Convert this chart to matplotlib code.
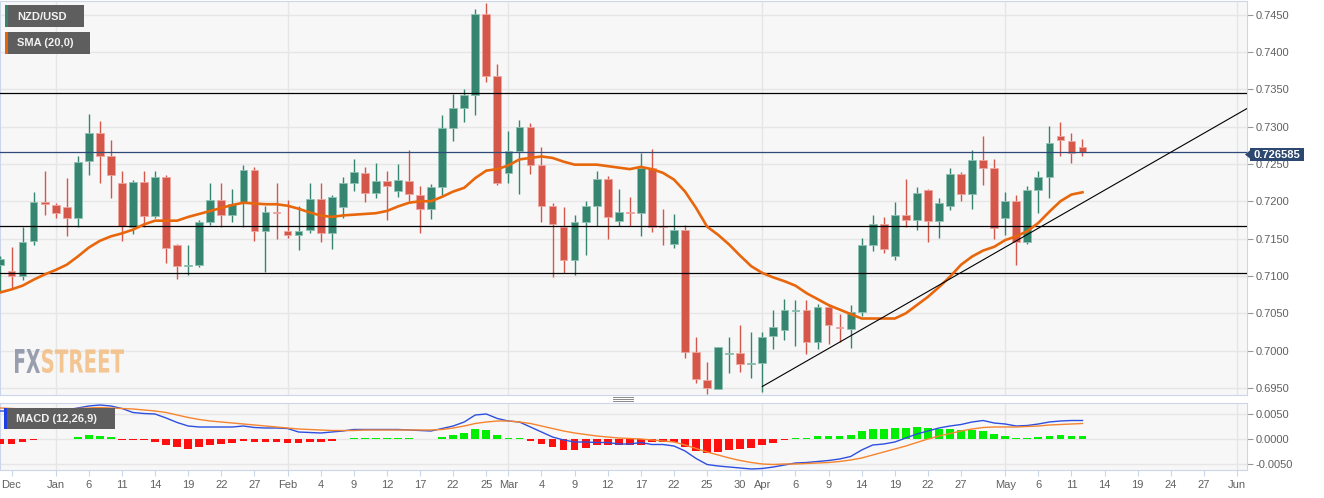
import numpy as np
import pandas as pd
import matplotlib
matplotlib.use('Agg')
import matplotlib.pyplot as plt
from matplotlib.patches import Rectangle, Polygon, PathPatch
from matplotlib.lines import Line2D
from matplotlib.textpath import TextPath
from matplotlib.font_manager import FontProperties
from matplotlib.transforms import Affine2D

plt.rcParams['font.family'] = ['Liberation Sans', 'DejaVu Sans']

# trading days, no candle on Christmas day
days = pd.bdate_range('2020-12-24', '2021-06-04')
days = days[days != pd.Timestamp('2020-12-25')]

# NZD/USD daily candles, Dec 24 2020 -> May 12 2021
opens = [0.7115, 0.7106, 0.7100, 0.7147, 0.7199, 0.7195, 0.7192, 0.7178, 0.7254, 0.7291,
         0.7260, 0.7224, 0.7166, 0.7226, 0.7180, 0.7232, 0.7142, 0.7113, 0.7114, 0.7172,
         0.7202, 0.7181, 0.7198, 0.7242, 0.7160, 0.7186, 0.7160, 0.7155, 0.7161, 0.7203,
         0.7158, 0.7192, 0.7225, 0.7238, 0.7211, 0.7227, 0.7214, 0.7227, 0.7209, 0.7189,
         0.7219, 0.7298, 0.7325, 0.7342, 0.7451, 0.7368, 0.7238, 0.7267, 0.7300, 0.7249,
         0.7193, 0.7165, 0.7122, 0.7172, 0.7193, 0.7230, 0.7174, 0.7186, 0.7184, 0.7245,
         0.7167, 0.7143, 0.7162, 0.6998, 0.6961, 0.6949, 0.6995, 0.6997, 0.6982, 0.6984,
         0.7019, 0.7028, 0.7053, 0.7054, 0.7011, 0.7059, 0.7032, 0.7029, 0.7052, 0.7141,
         0.7170, 0.7127, 0.7182, 0.7175, 0.7215, 0.7173, 0.7193, 0.7237, 0.7210, 0.7255,
         0.7244, 0.7177, 0.7200, 0.7145, 0.7215, 0.7233, 0.7288, 0.7281, 0.7272]
highs = [0.7127, 0.7139, 0.7165, 0.7212, 0.7241, 0.7197, 0.7231, 0.7261, 0.7317, 0.7308,
         0.7282, 0.7241, 0.7229, 0.7241, 0.7240, 0.7235, 0.7143, 0.7141, 0.7175, 0.7225,
         0.7225, 0.7216, 0.7249, 0.7246, 0.7194, 0.7225, 0.7202, 0.7193, 0.7225, 0.7225,
         0.7208, 0.7232, 0.7257, 0.7246, 0.7251, 0.7241, 0.7250, 0.7268, 0.7221, 0.7223,
         0.7315, 0.7343, 0.7350, 0.7457, 0.7466, 0.7384, 0.7294, 0.7309, 0.7305, 0.7273,
         0.7198, 0.7192, 0.7182, 0.7201, 0.7241, 0.7234, 0.7216, 0.7206, 0.7265, 0.7270,
         0.7189, 0.7183, 0.7168, 0.7018, 0.6985, 0.7005, 0.7018, 0.7034, 0.7025, 0.7025,
         0.7054, 0.7069, 0.7068, 0.7068, 0.7062, 0.7063, 0.7049, 0.7061, 0.7151, 0.7182,
         0.7179, 0.7199, 0.7230, 0.7219, 0.7216, 0.7204, 0.7245, 0.7239, 0.7268, 0.7288,
         0.7256, 0.7212, 0.7209, 0.7220, 0.7241, 0.7301, 0.7306, 0.7291, 0.7284]
lows = [0.7078, 0.7084, 0.7095, 0.7141, 0.7182, 0.7178, 0.7153, 0.7166, 0.7235, 0.7224,
        0.7204, 0.7147, 0.7156, 0.7166, 0.7178, 0.7117, 0.7096, 0.7101, 0.7112, 0.7168,
        0.7166, 0.7172, 0.7166, 0.7147, 0.7105, 0.7149, 0.7151, 0.7135, 0.7157, 0.7145,
        0.7136, 0.7178, 0.7214, 0.7199, 0.7204, 0.7175, 0.7206, 0.7200, 0.7157, 0.7176,
        0.7209, 0.7280, 0.7306, 0.7315, 0.7359, 0.7222, 0.7224, 0.7210, 0.7237, 0.7172,
        0.7098, 0.7104, 0.7101, 0.7128, 0.7167, 0.7150, 0.7167, 0.7167, 0.7154, 0.7159,
        0.7142, 0.7138, 0.6990, 0.6956, 0.6942, 0.6948, 0.6970, 0.6972, 0.6963, 0.6945,
        0.7002, 0.7014, 0.7006, 0.6996, 0.7002, 0.7009, 0.7012, 0.7003, 0.7046, 0.7134,
        0.7131, 0.7121, 0.7166, 0.7162, 0.7145, 0.7151, 0.7188, 0.7200, 0.7189, 0.7222,
        0.7150, 0.7155, 0.7115, 0.7143, 0.7184, 0.7204, 0.7260, 0.7251, 0.7261]
closes = [0.7123, 0.7100, 0.7146, 0.7199, 0.7196, 0.7184, 0.7178, 0.7253, 0.7291, 0.7260,
          0.7235, 0.7167, 0.7226, 0.7180, 0.7232, 0.7137, 0.7113, 0.7115, 0.7172, 0.7202,
          0.7181, 0.7196, 0.7242, 0.7160, 0.7186, 0.7184, 0.7155, 0.7160, 0.7203, 0.7158,
          0.7206, 0.7225, 0.7239, 0.7211, 0.7227, 0.7220, 0.7228, 0.7210, 0.7189, 0.7219,
          0.7298, 0.7325, 0.7342, 0.7451, 0.7368, 0.7224, 0.7267, 0.7300, 0.7249, 0.7193,
          0.7169, 0.7122, 0.7172, 0.7193, 0.7230, 0.7179, 0.7186, 0.7184, 0.7245, 0.7166,
          0.7165, 0.7162, 0.6998, 0.6962, 0.6950, 0.7005, 0.6997, 0.6982, 0.6984, 0.7018,
          0.7031, 0.7054, 0.7054, 0.7011, 0.7059, 0.7034, 0.7030, 0.7052, 0.7141, 0.7170,
          0.7136, 0.7182, 0.7175, 0.7211, 0.7174, 0.7198, 0.7237, 0.7210, 0.7255, 0.7245,
          0.7164, 0.7200, 0.7145, 0.7215, 0.7233, 0.7278, 0.7282, 0.7265, 0.726585]

# SMA (20)
sma20 = [0.7078, 0.7082, 0.7087, 0.7095, 0.7102, 0.7108, 0.7115, 0.7126, 0.7138, 0.7147,
         0.7153, 0.7157, 0.7162, 0.7169, 0.7174, 0.7174, 0.7174, 0.7179, 0.7183, 0.7187,
         0.7191, 0.7195, 0.7198, 0.7197, 0.7196, 0.7196, 0.7194, 0.7190, 0.7185, 0.7181,
         0.7179, 0.7181, 0.7182, 0.7183, 0.7184, 0.7187, 0.7193, 0.7198, 0.7200, 0.7200,
         0.7206, 0.7213, 0.7218, 0.7231, 0.7241, 0.7243, 0.7248, 0.7256, 0.7258, 0.7260,
         0.7258, 0.7253, 0.7249, 0.7249, 0.7249, 0.7247, 0.7245, 0.7243, 0.7246, 0.7243,
         0.7238, 0.7229, 0.7213, 0.7191, 0.7166, 0.7155, 0.7142, 0.7127, 0.7113, 0.7104,
         0.7098, 0.7093, 0.7087, 0.7077, 0.7069, 0.7061, 0.7055, 0.7049, 0.7043, 0.7043,
         0.7043, 0.7043, 0.7050, 0.7061, 0.7072, 0.7085, 0.7099, 0.7115, 0.7126, 0.7134,
         0.7139, 0.7148, 0.7153, 0.7160, 0.7171, 0.7186, 0.7200, 0.7209, 0.7212]

# MACD (12,26,9)
macd = [0.0055, 0.0055, 0.0055, 0.0055, 0.0057, 0.0057, 0.0057, 0.0061, 0.0065, 0.0067,
        0.0065, 0.0060, 0.0052, 0.0050, 0.0049, 0.0041, 0.0032, 0.0025, 0.0023, 0.0023,
        0.0023, 0.0023, 0.0025, 0.0022, 0.0021, 0.0021, 0.0020, 0.0013, 0.0012, 0.0011,
        0.0013, 0.0015, 0.0018, 0.0018, 0.0018, 0.0018, 0.0018, 0.0017, 0.0016, 0.0015,
        0.0020, 0.0025, 0.0033, 0.0047, 0.0049, 0.0040, 0.0035, 0.0033, 0.0023, 0.0013,
        0.0003, -0.0003, -0.0007, -0.0007, -0.0008, -0.0008, -0.0011, -0.0011, -0.0008, -0.0012,
        -0.0012, -0.0015, -0.0025, -0.0040, -0.0052, -0.0055, -0.0057, -0.0059, -0.0061, -0.0060,
        -0.0057, -0.0053, -0.0049, -0.0048, -0.0046, -0.0044, -0.0041, -0.0036, -0.0023, -0.0013,
        -0.0011, -0.0007, 0.0001, 0.0009, 0.0015, 0.0021, 0.0025, 0.0028, 0.0033, 0.0036,
        0.0031, 0.0029, 0.0025, 0.0026, 0.0029, 0.0033, 0.0035, 0.0036, 0.0036]
signal = [0.0061, 0.0060, 0.0059, 0.0058, 0.0058, 0.0058, 0.0059, 0.0060, 0.0061, 0.0062,
          0.0061, 0.0060, 0.0059, 0.0057, 0.0055, 0.0052, 0.0047, 0.0042, 0.0038, 0.0035,
          0.0033, 0.0031, 0.0029, 0.0027, 0.0025, 0.0023, 0.0021, 0.0019, 0.0018, 0.0017,
          0.0016, 0.0016, 0.0016, 0.0017, 0.0017, 0.0017, 0.0017, 0.0017, 0.0017, 0.0017,
          0.0018, 0.0021, 0.0025, 0.0030, 0.0033, 0.0035, 0.0035, 0.0033, 0.0030, 0.0025,
          0.0020, 0.0015, 0.0011, 0.0008, 0.0005, 0.0003, 0.0001, 0.0000, -0.0001, -0.0003,
          -0.0005, -0.0007, -0.0013, -0.0020, -0.0027, -0.0033, -0.0039, -0.0044, -0.0048, -0.0051,
          -0.0052, -0.0051, -0.0051, -0.0050, -0.0049, -0.0048, -0.0046, -0.0043, -0.0039, -0.0033,
          -0.0027, -0.0021, -0.0015, -0.0008, -0.0001, 0.0005, 0.0010, 0.0015, 0.0019, 0.0022,
          0.0023, 0.0023, 0.0023, 0.0024, 0.0025, 0.0027, 0.0028, 0.0029, 0.0030]
hist = [-0.0010, -0.0011, -0.0007, -0.0003, -0.0001, -0.0001, -0.0001, 0.0003, 0.0007, 0.0006,
        0.0003, -0.0003, -0.0003, -0.0003, -0.0007, -0.0013, -0.0017, -0.0020, -0.0017, -0.0013,
        -0.0011, -0.0009, -0.0005, -0.0007, -0.0007, -0.0007, -0.0008, -0.0008, -0.0007, -0.0007,
        -0.0004, -0.0001, 0.0001, 0.0001, 0.0001, 0.0001, 0.0001, 0.0001, -0.0001, -0.0001,
        0.0003, 0.0007, 0.0011, 0.0019, 0.0017, 0.0007, 0.0001, 0.0001, -0.0005, -0.0010,
        -0.0017, -0.0022, -0.0022, -0.0019, -0.0013, -0.0013, -0.0013, -0.0012, -0.0012, -0.0007,
        -0.0007, -0.0007, -0.0017, -0.0025, -0.0028, -0.0027, -0.0023, -0.0020, -0.0018, -0.0013,
        -0.0008, -0.0002, 0.0002, 0.0002, 0.0006, 0.0006, 0.0006, 0.0008, 0.0015, 0.0020,
        0.0020, 0.0022, 0.0022, 0.0024, 0.0022, 0.0020, 0.0020, 0.0018, 0.0018, 0.0016,
        0.0009, 0.0006, 0.0001, 0.0001, 0.0003, 0.0005, 0.0007, 0.0005, 0.0005]

# drawn levels
levels = [0.7345, 0.7167, 0.7104]
last_price = 0.726585
trend_dates = ['2021-04-01', '2021-06-02']
trend_vals = [0.6952, 0.7325]

month_starts = ['2021-01-01', '2021-02-01', '2021-03-01', '2021-04-01', '2021-05-03', '2021-06-01']
tick_dates = ['2020-12-28', '2021-01-01', '2021-01-06', '2021-01-11', '2021-01-14', '2021-01-19',
              '2021-01-22', '2021-01-27', '2021-02-01', '2021-02-04', '2021-02-09', '2021-02-12',
              '2021-02-17', '2021-02-22', '2021-02-25', '2021-03-01', '2021-03-04', '2021-03-09',
              '2021-03-12', '2021-03-17', '2021-03-22', '2021-03-25', '2021-03-30', '2021-04-01',
              '2021-04-06', '2021-04-09', '2021-04-14', '2021-04-19', '2021-04-22', '2021-04-27',
              '2021-05-03', '2021-05-06', '2021-05-11', '2021-05-14', '2021-05-19', '2021-05-24',
              '2021-05-27', '2021-06-01']
tick_labels = ['Dec', 'Jan', '6', '11', '14', '19', '22', '27', 'Feb', '4', '9', '12', '17', '22',
               '25', 'Mar', '4', '9', '12', '17', '22', '25', '30', 'Apr', '6', '9', '14', '19',
               '22', '27', 'May', '6', '11', '14', '19', '24', '27', 'Jun']


def pos(d):
    return days.get_loc(pd.Timestamp(d))


W, H = 1324, 498
GREEN, RED = '#358570', '#d4574a'
BORDER = '#ccd6eb'
GRID = '#e6e6e6'

o = np.array(opens)
h = np.array(highs)
l = np.array(lows)
c = np.array(closes)
x = np.arange(len(c))

fig = plt.figure(figsize=(W / 100, H / 100), dpi=100)
fig.patch.set_facecolor('white')
ax = fig.add_axes([0, 1 - 395 / H, 1247 / W, 394 / H])
ax2 = fig.add_axes([0, 1 - 470 / H, 1247 / W, 67 / H], sharex=ax)

for a in (ax, ax2):
    a.set_facecolor('#f7f7f7')
    for s in a.spines.values():
        s.set_color(BORDER)
    a.yaxis.tick_right()
    a.tick_params(axis='y', length=4, color='#999999', labelsize=8, labelcolor='#606060', pad=2)
    a.yaxis.grid(True, color=GRID, lw=1)
    a.set_axisbelow(True)
    for d in month_starts:
        a.axvline(pos(d), color=GRID, lw=1, zorder=0)

# candles
up = c >= o
col = np.where(up, GREEN, RED)
edge = np.where(up, '#8fc2b2', '#eea79f')
ax.vlines(x, l, h, colors=col, lw=1, zorder=3)
ax.bar(x, np.maximum(np.abs(c - o), 0.00008), bottom=np.minimum(o, c), width=0.7,
       color=col, edgecolor=edge, linewidth=0.6, zorder=4)

ax.plot(x, sma20, color='#e8670c', lw=1.9, zorder=6)
for lv in levels:
    ax.axhline(lv, color='black', lw=0.9, zorder=5)
ax.axhline(last_price, color='#2e4a78', lw=0.9, zorder=5)
ax.plot([pos(d) for d in trend_dates], trend_vals, color='black', lw=0.8, zorder=6)

ax.set_xlim(-0.045, 112.9)
ax.set_ylim(0.69406, 0.74681)
ax.set_yticks(np.arange(0.695, 0.7451, 0.005))
ax.yaxis.set_major_formatter(matplotlib.ticker.FormatStrFormatter('%.4f'))
ax.tick_params(axis='x', bottom=False, labelbottom=False)

# MACD panel
hv = np.array(hist)
ax2.bar(x, hv, width=0.7, color=np.where(hv >= 0, '#00ee00', '#ff1010'), zorder=3)
ax2.plot(x, macd, color='#2d4fe0', lw=1, zorder=4)
ax2.plot(x, signal, color='#f5842e', lw=1, zorder=4)
ax2.set_ylim(-0.0063, 0.0071)
ax2.set_yticks([-0.005, 0, 0.005])
ax2.yaxis.set_major_formatter(matplotlib.ticker.FormatStrFormatter('%.4f'))
ax2.set_xticks([pos(d) for d in tick_dates])
ax2.set_xticklabels(tick_labels)
ax2.tick_params(axis='x', length=4, color=BORDER, labelsize=8, labelcolor='#606060', pad=3)


def fxy(px, py):
    return px / W, 1 - py / H


def label_box(x0, y0, x1, y1, accent, text):
    fig.add_artist(Rectangle(fxy(x0, y1), (x1 - x0) / W, (y1 - y0) / H, transform=fig.transFigure,
                             facecolor='#5e5e5e', edgecolor='none', zorder=10))
    fig.add_artist(Rectangle(fxy(x0, y1), 3 / W, (y1 - y0) / H, transform=fig.transFigure,
                             facecolor=accent, edgecolor='none', zorder=11))
    fig.text(*fxy(x0 + 12, (y0 + y1) / 2 + 0.5), text, color='#f2f2f2', fontsize=8,
             fontweight='bold', ha='left', va='center', zorder=12)


label_box(5, 5, 84, 27, GREEN, 'NZD/USD')
label_box(5, 32, 90, 54, '#e8620a', 'SMA (20,0)')
label_box(4, 408, 115, 429, '#1f3ee0', 'MACD (12,26,9)')

# last price tag
fig.add_artist(Rectangle(fxy(1250, 161), 54 / W, 13 / H, transform=fig.transFigure,
                         facecolor='#2c4770', edgecolor='none', zorder=10))
fig.add_artist(Polygon([fxy(1245, 154.5), fxy(1250.5, 150), fxy(1250.5, 159)], closed=True,
                       transform=fig.transFigure, facecolor='#2c4770', edgecolor='none', zorder=10))
fig.text(*fxy(1277, 155), '0.726585', color='white', fontsize=8, fontweight='bold',
         ha='center', va='center', zorder=11)

# panel resize handle
for yy in (397, 399, 401):
    fig.add_artist(Line2D([613 / W, 633 / W], [1 - yy / H] * 2, color='#8a8a8a', lw=0.7))

# FXSTREET watermark
fp = FontProperties(family='DejaVu Sans', weight='bold')
for word, x0, x1, colr in [('FX', 15, 40, '#8f95a8'), ('STREET', 42, 124, '#f2c088')]:
    tp = TextPath((0, 0), word, size=10, prop=fp)
    ext = tp.get_extents()
    tr = (Affine2D().translate(-ext.x0, -ext.y0)
          .scale((x1 - x0) / ext.width, 24 / ext.height)
          .translate(x0, H - 373))
    fig.add_artist(PathPatch(tp, transform=tr, facecolor=colr, edgecolor='none', alpha=0.9, zorder=2))

fig.savefig('out.png', dpi=100)
